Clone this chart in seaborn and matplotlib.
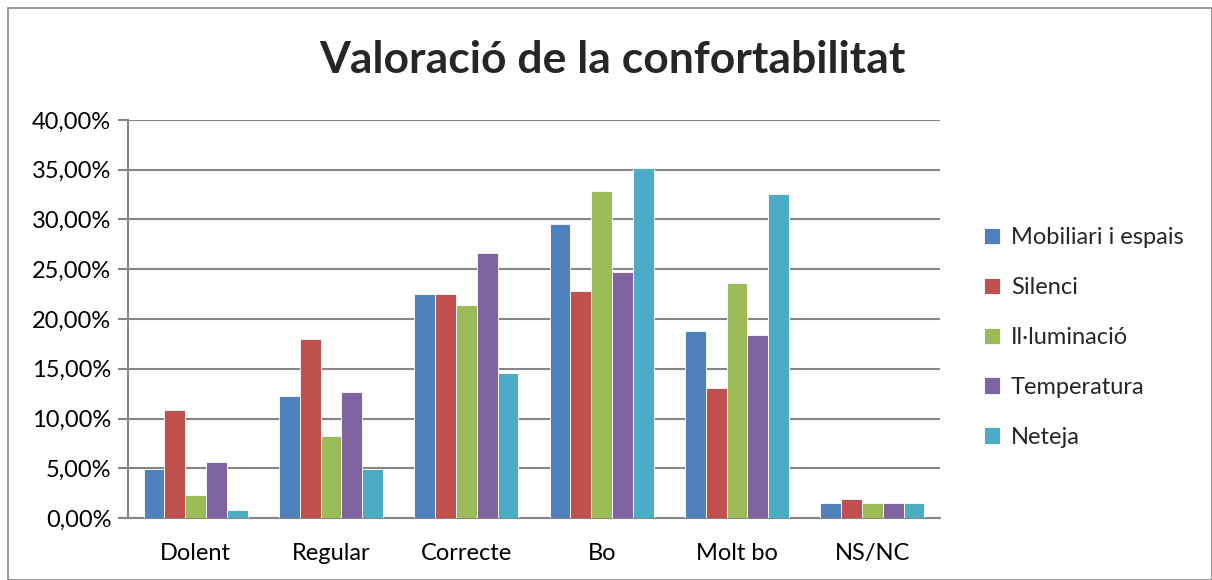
import pandas as pd
import numpy as np
import seaborn as sns
import matplotlib.pyplot as plt
from matplotlib.ticker import FuncFormatter, FixedLocator
from matplotlib.patches import Rectangle

categories = ['Dolent', 'Regular', 'Correcte', 'Bo', 'Molt bo', 'NS/NC']
series = ['Mobiliari i espais', 'Silenci', 'Il·luminació', 'Temperatura', 'Neteja']
mobiliari = [4.9, 12.3, 22.5, 29.5, 18.8, 1.5]
silenci = [10.9, 18.0, 22.5, 22.8, 13.1, 1.9]
illuminacio = [2.3, 8.2, 21.4, 32.9, 23.6, 1.5]
temperatura = [5.6, 12.7, 26.6, 24.7, 18.4, 1.5]
neteja = [0.8, 4.9, 14.6, 35.2, 32.6, 1.5]
colors = ['#4F81BD', '#C0504D', '#9BBB59', '#8064A2', '#4BACC6']

rows = []
for s, vals in zip(series, [mobiliari, silenci, illuminacio, temperatura, neteja]):
    for c, v in zip(categories, vals):
        rows.append({'cat': c, 'serie': s, 'val': v})
df = pd.DataFrame(rows)

sns.set_style('white')
plt.rcParams['font.family'] = ['Lato', 'DejaVu Sans']

fig = plt.figure(figsize=(12.12, 5.8), dpi=100)
ax = fig.add_axes([128/1212, 62/580, 812/1212, 398/580])
sns.barplot(data=df, x='cat', y='val', hue='serie', palette=colors, width=0.77,
            saturation=1, edgecolor='white', linewidth=0.6, ax=ax, zorder=3)

ax.set_ylim(0, 40)
ax.set_xlim(-0.5, 5.5)
ax.set_yticks(np.arange(0, 41, 5))
ax.yaxis.set_major_formatter(FuncFormatter(lambda v, p: f'{v:.2f}%'.replace('.', ',')))
ax.grid(axis='y', color='#868686', linewidth=1.5, zorder=0)
ax.set_axisbelow(True)
ax.set_xlabel('')
ax.set_ylabel('')
for side in ['top', 'right']:
    ax.spines[side].set_visible(False)
for side in ['left', 'bottom']:
    ax.spines[side].set_color('#868686')
    ax.spines[side].set_linewidth(1.5)
ax.xaxis.set_minor_locator(FixedLocator(np.arange(-0.5, 6, 1)))
ax.tick_params(axis='x', which='major', length=0, labelsize=17, pad=18, labelcolor='black')
ax.tick_params(axis='x', which='minor', length=7, width=1.5, color='#868686', direction='out')
ax.tick_params(axis='y', length=7, width=1.5, color='#868686', direction='out', labelsize=17,
               left=True, labelcolor='black', pad=5)

ax.get_legend().remove()
handles, labels = ax.get_legend_handles_labels()
fig.legend(handles, labels, loc='center left', bbox_to_anchor=(0.794, 0.418), frameon=False,
           fontsize=17, handlelength=0.7, handleheight=0.7, handletextpad=0.45, labelspacing=1.22)

fig.text(0.505, 1 - 60/580, 'Valoració de la confortabilitat', ha='center', va='center',
         fontsize=32, fontweight='bold')
fig.patches.append(Rectangle((8/1212, 0), 1 - 8/1212, 1 - 8/580, transform=fig.transFigure,
                             fill=False, edgecolor='#868686', linewidth=1.2))

fig.savefig('out.png', dpi=100)
